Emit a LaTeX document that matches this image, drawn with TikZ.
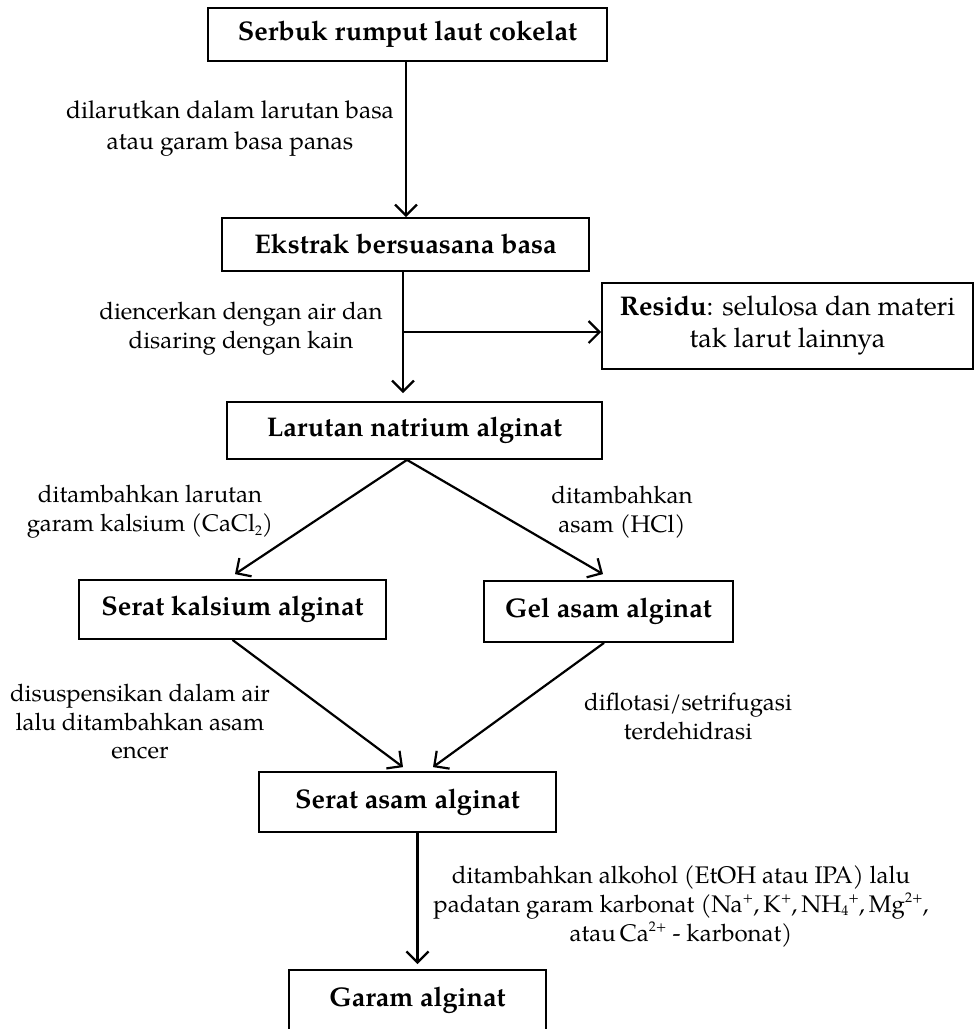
\documentclass[tikz,border=0pt]{standalone}
\usepackage{fontspec}
\setmainfont{TeX Gyre Pagella}
\usetikzlibrary{arrows.meta}
\newcommand\supx[1]{\raisebox{0.4em}{\fontsize{14}{14}\selectfont #1}}
\newcommand\subx[1]{\raisebox{-0.15em}{\fontsize{14}{14}\selectfont #1}}
\tikzset{
  box/.style={draw, line width=1.8pt, inner sep=0pt, font=\fontsize{27}{32}\selectfont\bfseries, align=center},
  lbl/.style={inner sep=0pt, font=\fontsize{24}{29}\selectfont, align=center},
  arr/.style={line width=2.2pt, -{Straight Barb[length=11pt,width=22pt]}},
  ln/.style={line width=2.2pt}
}
\begin{document}
\begin{tikzpicture}[x=1pt,y=-1pt]
\useasboundingbox (0,0) rectangle (974,1029);
% boxes
\node[box, minimum width=399pt, minimum height=53pt] (b1) at (407.5,34.5) {Serbuk rumput laut cokelat};
\node[box, minimum width=367pt, minimum height=53pt] (b2) at (405.5,244.5) {Ekstrak bersuasana basa};
\node[box, minimum width=371pt, minimum height=86pt, font=\fontsize{27}{32}\selectfont] (res) at (787.5,326) {\textbf{Residu}: selulosa dan materi\\tak larut lainnya};
\node[box, minimum width=375pt, minimum height=57pt] (b3) at (414.5,430.5) {Larutan natrium alginat};
\node[box, minimum width=307pt, minimum height=59pt] (b4) at (232.5,609.5) {Serat kalsium alginat};
\node[box, minimum width=249pt, minimum height=61pt] (b5) at (608.5,611.5) {Gel asam alginat};
\node[box, minimum width=297pt, minimum height=60pt] (b6) at (407.5,802) {Serat asam alginat};
\node[box, minimum width=257pt, minimum height=60pt, anchor=north] (b7) at (417.5,969) {Garam alginat};
% labels
\node[lbl, font=\fontsize{24.5}{31}\selectfont] (l1) at (230,129) {dilarutkan dalam larutan basa\\atau garam basa panas};
\node[lbl] (l2) at (241,329) {diencerkan dengan air dan\\disaring dengan kain};
\node[lbl] (l3) at (150,512) {ditambahkan larutan\\garam kalsium (CaCl\subx{2})};
\node[lbl] (l4) at (622,512) {ditambahkan\\asam (HCl)};
\node[lbl, font=\fontsize{24}{28.5}\selectfont] (l5) at (140,722) {disuspensikan dalam air\\lalu ditambahkan asam\\encer};
\node[lbl] (l6) at (688,716) {diflotasi/setrifugasi\\terdehidrasi};
\node[lbl] (l7) at (681,906) {ditambahkan alkohol (EtOH atau IPA) lalu\\padatan garam karbonat (Na\supx{+},\,K\supx{+},\,NH\subx{4}\supx{+},\,Mg\supx{2+},\\atau\,Ca\supx{2+} - karbonat)};
% connectors
\coordinate (j) at (403,332);
\draw[arr] ([xshift=-1.5pt]b1.south) -- ([xshift=-1.5pt]b1.south |- b2.north);
\draw[ln] (b2.south -| j) -- (j);
\draw[arr, shorten >=8pt] (j) -- (j |- b3.north);
\draw[arr] (j) -- (j -| res.west);
\draw[arr] ([xshift=-7.5pt]b3.south) -- ([xshift=2.5pt,yshift=5pt]b4.north);
\draw[arr] ([xshift=-7.5pt]b3.south) -- ([xshift=-5.5pt,yshift=6pt]b5.north);
\draw[arr] (b4.south) -- ([xshift=-4.5pt,yshift=4pt]b6.north);
\draw[arr] ([xshift=-4.5pt]b5.south) -- ([xshift=25.5pt,yshift=4pt]b6.north);
\draw[arr, shorten >=5pt] (b6.south -| b7.north) -- (b7.north);
\end{tikzpicture}
\end{document}
